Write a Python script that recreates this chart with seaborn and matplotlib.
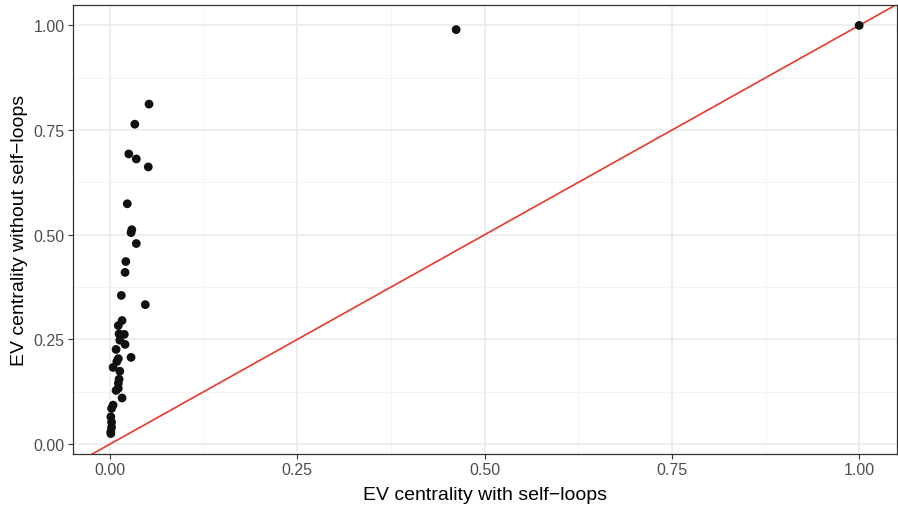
import numpy as np
import matplotlib
matplotlib.use("Agg")
import matplotlib.pyplot as plt
import pandas as pd
import seaborn as sns

# values
ev_with_loops = [1.000, 0.462, 0.052, 0.033, 0.025, 0.035, 0.051, 0.023, 0.029, 0.028,
                 0.035, 0.021, 0.020, 0.015, 0.047, 0.016, 0.011, 0.019, 0.012, 0.013,
                 0.020, 0.008, 0.028, 0.011, 0.009, 0.004, 0.013, 0.012, 0.011, 0.011,
                 0.008, 0.016, 0.004, 0.002, 0.001, 0.002, 0.002, 0.001, 0.001]
ev_without_loops = [1.000, 0.990, 0.812, 0.764, 0.693, 0.681, 0.662, 0.574, 0.512, 0.505,
                    0.479, 0.436, 0.410, 0.355, 0.333, 0.295, 0.283, 0.262, 0.263, 0.248,
                    0.238, 0.226, 0.207, 0.204, 0.197, 0.183, 0.174, 0.155, 0.145, 0.133,
                    0.128, 0.110, 0.093, 0.085, 0.065, 0.052, 0.040, 0.030, 0.025]
ticks = [0.00, 0.25, 0.50, 0.75, 1.00]
tick_labels = ["0.00", "0.25", "0.50", "0.75", "1.00"]

df = pd.DataFrame({"with": ev_with_loops, "without": ev_without_loops})

sns.set_style("white")
plt.rcParams["font.family"] = ["Liberation Sans", "DejaVu Sans"]
plt.rcParams["xtick.bottom"] = True
plt.rcParams["ytick.left"] = True

fig = plt.figure(figsize=(8.98, 5.06), dpi=100)
ax = fig.add_axes([73 / 898, 1 - 455 / 506, 824 / 898, 449 / 506])

# grid like theme_bw
for v in np.arange(-0.125, 1.2, 0.25):
    ax.axvline(v, color="#f2f2f2", lw=0.6, zorder=0)
    ax.axhline(v, color="#f2f2f2", lw=0.6, zorder=0)
for v in ticks:
    ax.axvline(v, color="#ebebeb", lw=1.2, zorder=0)
    ax.axhline(v, color="#ebebeb", lw=1.2, zorder=0)

ax.axline((0, 0), slope=1, color="#e8392b", lw=1.2, zorder=1)
sns.scatterplot(data=df, x="with", y="without", ax=ax, color="#111111",
                s=40, edgecolor="none", zorder=2)

ax.set_xlim(-0.0495, 1.0505)
ax.set_ylim(-0.0238, 1.0488)
ax.set_xticks(ticks)
ax.set_xticklabels(tick_labels)
ax.set_yticks(ticks)
ax.set_yticklabels(tick_labels)
ax.tick_params(axis="both", length=3.5, width=0.8, color="#333333",
               labelcolor="#4d4d4d", labelsize=11.5, pad=2.5, direction="out")
for s in ax.spines.values():
    s.set_color("#333333")
    s.set_linewidth(0.9)

ax.set_xlabel("EV centrality with self\u2212loops", fontsize=14, color="black", labelpad=6)
ax.set_ylabel("EV centrality without self\u2212loops", fontsize=14, color="black", labelpad=4)

fig.savefig("out.png", dpi=100)
